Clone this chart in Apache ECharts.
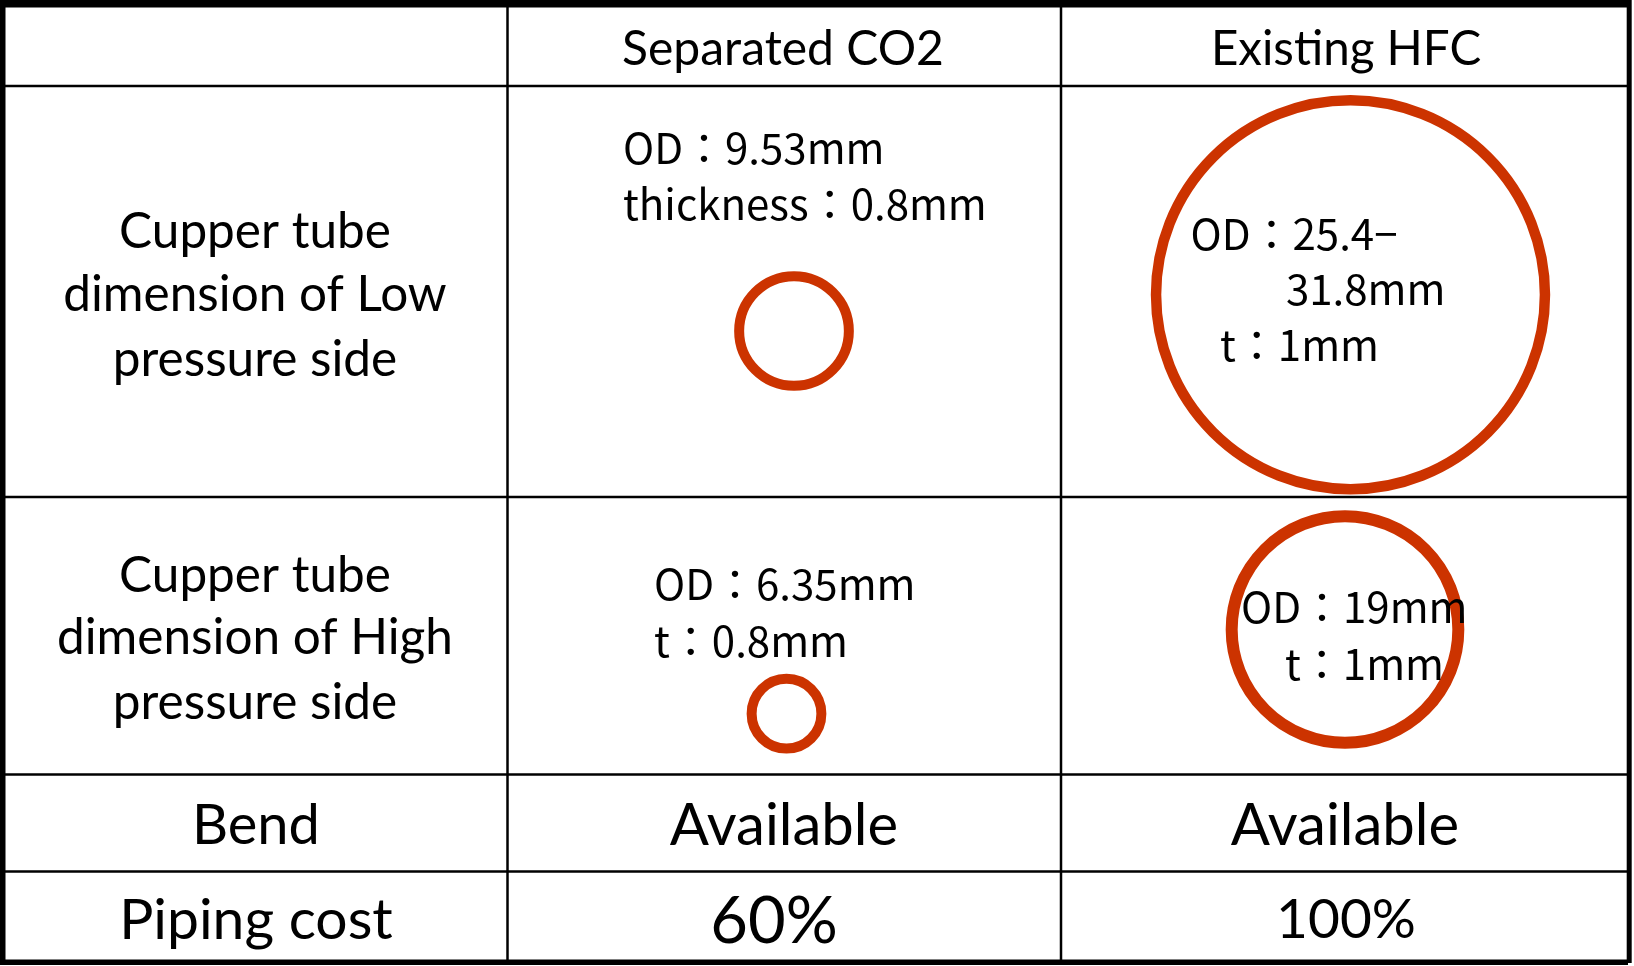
<!DOCTYPE html>
<html>
<head>
<meta charset="utf-8">
<script src="https://cdn.jsdelivr.net/npm/echarts@6/dist/echarts.min.js"></script>
<style>
html,body{margin:0;padding:0;background:#fff;}
#chart{width:1634px;height:966px;}
</style>
</head>
<body>
<div id="chart"></div>
<script>
// ---------- data ----------
const headerLabels = ['Separated CO2', 'Existing HFC'];
const rowLabelLow = ['Cupper tube', 'dimension of Low', 'pressure side'];
const rowLabelHigh = ['Cupper tube', 'dimension of High', 'pressure side'];
const rowLabelBend = 'Bend';
const rowLabelCost = 'Piping cost';
const co2LowText = ['OD：9.53mm', 'thickness：0.8mm'];
const hfcLowText = ['OD：25.4−', '31.8mm', 't：1mm'];
const co2HighText = ['OD：6.35mm', 't：0.8mm'];
const hfcHighText = ['OD：19mm', 't：1mm'];
const bendValues = ['Available', 'Available'];
const costValues = ['60%', '100%'];
// outer diameter of each tube (mm): CO2 low, HFC low (max), CO2 high, HFC high
const tubeOD = [9.53, 31.8, 6.35, 19];

// ---------- layout ----------
const W = 1634, H = 966;
const PX_PER_MM = 12.56;
const circleCenters = [[794, 331], [1350.5, 294.7], [786.5, 713.7], [1345, 629.5]];
const circleStroke = [10, 10.5, 10, 12];
const RED = '#CC3300';
const LATO = 'Lato, "Open Sans", sans-serif';
const JP = '"Noto Sans CJK JP", "Noto Sans", sans-serif';
const DY_LATO = 3.5, DY_JP = 3;

const g = [];
function rect(x, y, w, h) {
  g.push({type: 'rect', shape: {x, y, width: w, height: h}, style: {fill: '#000'}, z: 50, silent: true});
}
// outer border
rect(0, 0, 1628, 7.5);
rect(0, 0, 5.5, 964.5);
rect(0, 959.5, 1628, 5.5);
rect(1626.7, 0, 5, 963);
// inner lines
[507.5, 1061].forEach(x => rect(x - 1.25, 7, 2.5, 953));
[86, 497, 774.5, 871.5].forEach(y => rect(5, y - 1.25, 1622, 2.5));

function txt(text, x, y, size, family, align) {
  const dy = family === JP ? DY_JP : DY_LATO;
  g.push({type: 'text', x, y: y + dy, z: 100, silent: true,
    style: {text, fill: '#000', font: size + 'px ' + family, textAlign: align || 'center', textVerticalAlign: 'middle', verticalAlign: 'middle'}});
}
// header
txt(headerLabels[0], 783, 46, 48, LATO);
txt(headerLabels[1], 1346, 46, 47.5, LATO);
// row labels
[229, 292, 356.5].forEach((y, i) => txt(rowLabelLow[i], 255, y, 49.5, LATO));
[572.5, 635, 699.5].forEach((y, i) => txt(rowLabelHigh[i], 255, y, 49.5, LATO));
txt(rowLabelBend, 256, 822, 56, LATO);
txt(rowLabelCost, 256, 917, 57, LATO);
// bend / cost values
txt(bendValues[0], 784, 822.5, 58, LATO);
txt(bendValues[1], 1345, 822.5, 58, LATO);
txt(costValues[0], 774, 919, 65, LATO);
txt(costValues[1], 1346, 916.5, 55, LATO);
// tube dimension texts
const JS = 42;
txt(co2LowText[0], 623, 144.6, JS, JP, 'left');
txt(co2LowText[1], 623, 201.3, JS, JP, 'left');
txt(hfcLowText[0], 1190.5, 231.3, JS, JP, 'left');
txt(hfcLowText[1], 1286, 285.7, JS, JP, 'left');
txt(hfcLowText[2], 1220, 342, JS, JP, 'left');
txt(co2HighText[0], 654, 581.3, JS, JP, 'left');
txt(co2HighText[1], 654, 638, JS, JP, 'left');
txt(hfcHighText[0], 1241, 604, JS, JP, 'left');
txt(hfcHighText[1], 1285, 661.3, JS, JP, 'left');

const circleData = tubeOD.map((od, i) => ({
  value: [circleCenters[i][0], circleCenters[i][1], od],
  itemStyle: {borderWidth: circleStroke[i]}
}));

const chart = echarts.init(document.getElementById('chart'), null, {renderer: 'canvas'});
chart.setOption({
  animation: false,
  backgroundColor: '#fff',
  grid: {left: 0, right: 0, top: 0, bottom: 0, containLabel: false},
  xAxis: {type: 'value', min: 0, max: W, show: false},
  yAxis: {type: 'value', min: 0, max: H, inverse: true, show: false},
  series: [{
    type: 'scatter',
    silent: true,
    data: circleData,
    symbol: 'circle',
    symbolSize: (v, p) => v[2] * PX_PER_MM - circleStroke[p.dataIndex],
    itemStyle: {color: 'rgba(0,0,0,0)', borderColor: RED, opacity: 1},
    emphasis: {disabled: true}
  }],
  graphic: g
});
</script>
</body>
</html>
